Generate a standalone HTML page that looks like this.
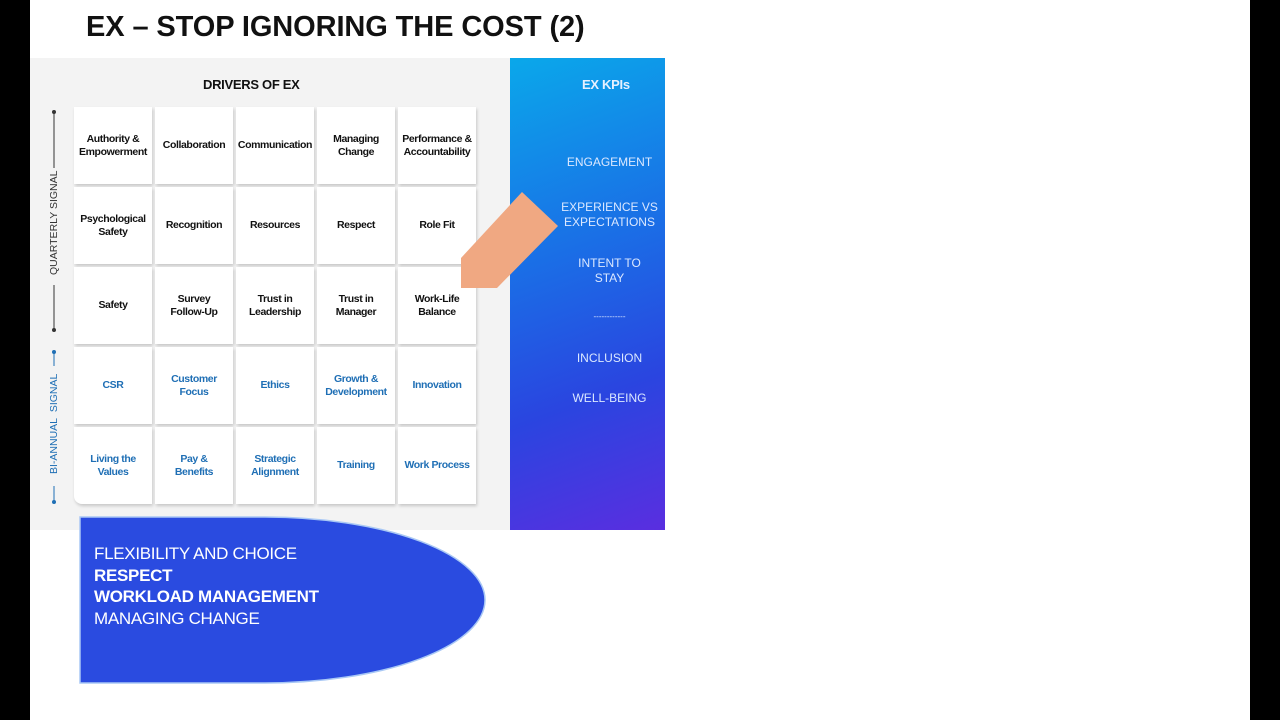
<!DOCTYPE html>
<html><head><meta charset="utf-8"><style>
*{margin:0;padding:0;box-sizing:border-box}
body{width:1280px;height:720px;background:#000;position:relative;overflow:hidden;font-family:"Liberation Sans",sans-serif}
.slide{position:absolute;left:30px;top:0;width:1220px;height:720px;background:#fff}
.title{position:absolute;left:86px;top:11px;font-size:29px;font-weight:bold;color:#111;letter-spacing:-0.1px;white-space:nowrap}
.gray{position:absolute;left:30px;top:58px;width:480px;height:472px;background:#f3f3f3}
.blue{position:absolute;left:510px;top:58px;width:155px;height:472px;background:linear-gradient(160deg,#0aa8ea 0%,#1a6fe6 40%,#2a45e0 70%,#5a2ee0 100%)}
.cell{position:absolute;width:78px;height:77px;background:#fff;box-shadow:1px 2px 3px rgba(0,0,0,0.18);display:flex;align-items:center;justify-content:center;text-align:center;font-size:10.5px;letter-spacing:-0.4px;white-space:nowrap;font-weight:bold;line-height:13px;color:#111}
.cell.b{color:#1f6fb5}
.kpi{position:absolute;left:532px;width:155px;text-align:center;color:#dbe8ff;font-size:12px;line-height:15px}
.vt{position:absolute;transform:rotate(-90deg);transform-origin:center;font-size:10.5px;white-space:nowrap}
</style></head><body>
<div class="slide"></div>
<div class="title">EX – STOP IGNORING THE COST (2)</div>
<div class="gray"></div>
<div style="position:absolute;left:203px;top:77px;font-size:13px;font-weight:bold;color:#111;letter-spacing:-0.3px">DRIVERS OF EX</div>
<div class="blue"></div>
<div style="position:absolute;left:582px;top:77px;font-size:13px;font-weight:bold;color:#e6f0ff;letter-spacing:-0.3px">EX KPIs</div>
<div class="kpi" style="top:155px">ENGAGEMENT</div>
<div class="kpi" style="top:200px">EXPERIENCE VS<br>EXPECTATIONS</div>
<div class="kpi" style="top:256px">INTENT TO<br>STAY</div>
<div class="kpi" style="top:309px;font-size:8px">------------</div>
<div class="kpi" style="top:351px">INCLUSION</div>
<div class="kpi" style="top:391px">WELL-BEING</div>

<svg style="position:absolute;left:0;top:0" width="1280" height="720">
<line x1="54" y1="112" x2="54" y2="168" stroke="#333" stroke-width="1"/>
<line x1="54" y1="285" x2="54" y2="330" stroke="#333" stroke-width="1"/>
<circle cx="54" cy="112" r="2" fill="#333"/><circle cx="54" cy="330" r="2" fill="#333"/>
<line x1="54" y1="352" x2="54" y2="366" stroke="#1f6fb5" stroke-width="1"/>
<line x1="54" y1="486" x2="54" y2="502" stroke="#1f6fb5" stroke-width="1"/>
<circle cx="54" cy="352" r="2" fill="#1f6fb5"/><circle cx="54" cy="502" r="2" fill="#1f6fb5"/>
</svg>
<div class="vt" style="left:4px;top:219px;width:100px;text-align:center;color:#333">QUARTERLY SIGNAL</div>
<div class="vt" style="left:4px;top:418px;width:100px;text-align:center;color:#1f6fb5">BI-ANNUAL&nbsp; SIGNAL</div>

<div class="cell" style="left:74px;top:107px">Authority &amp;<br>Empowerment</div>
<div class="cell" style="left:155px;top:107px">Collaboration</div>
<div class="cell" style="left:236px;top:107px">Communication</div>
<div class="cell" style="left:317px;top:107px">Managing<br>Change</div>
<div class="cell" style="left:398px;top:107px">Performance &amp;<br>Accountability</div>
<div class="cell" style="left:74px;top:187px">Psychological<br>Safety</div>
<div class="cell" style="left:155px;top:187px">Recognition</div>
<div class="cell" style="left:236px;top:187px">Resources</div>
<div class="cell" style="left:317px;top:187px">Respect</div>
<div class="cell" style="left:398px;top:187px">Role Fit</div>
<div class="cell" style="left:74px;top:267px">Safety</div>
<div class="cell" style="left:155px;top:267px">Survey<br>Follow-Up</div>
<div class="cell" style="left:236px;top:267px">Trust in<br>Leadership</div>
<div class="cell" style="left:317px;top:267px">Trust in<br>Manager</div>
<div class="cell" style="left:398px;top:267px">Work-Life<br>Balance</div>
<div class="cell b" style="left:74px;top:347px">CSR</div>
<div class="cell b" style="left:155px;top:347px">Customer<br>Focus</div>
<div class="cell b" style="left:236px;top:347px">Ethics</div>
<div class="cell b" style="left:317px;top:347px">Growth &amp;<br>Development</div>
<div class="cell b" style="left:398px;top:347px">Innovation</div>
<div class="cell b" style="left:74px;top:427px;border-bottom-left-radius:8px">Living the<br>Values</div>
<div class="cell b" style="left:155px;top:427px">Pay &amp;<br>Benefits</div>
<div class="cell b" style="left:236px;top:427px">Strategic<br>Alignment</div>
<div class="cell b" style="left:317px;top:427px">Training</div>
<div class="cell b" style="left:398px;top:427px">Work Process</div>

<svg style="position:absolute;left:0;top:0" width="1280" height="720">
<polygon points="461,258 522,192 558,226 497,288 461,288" fill="#f0a882"/>
<path d="M80,517 L265,517 A220,83 0 0 1 485,600 A220,83 0 0 1 265,683 L80,683 Z" fill="#2a4be0" stroke="#a9c8f5" stroke-width="1.5"/>
</svg>
<div style="position:absolute;left:94px;top:543px;color:#fff;font-size:17px;line-height:21.5px;letter-spacing:-0.3px">
FLEXIBILITY AND CHOICE<br><b>RESPECT</b><br><b>WORKLOAD MANAGEMENT</b><br>MANAGING CHANGE</div>
</body></html>
